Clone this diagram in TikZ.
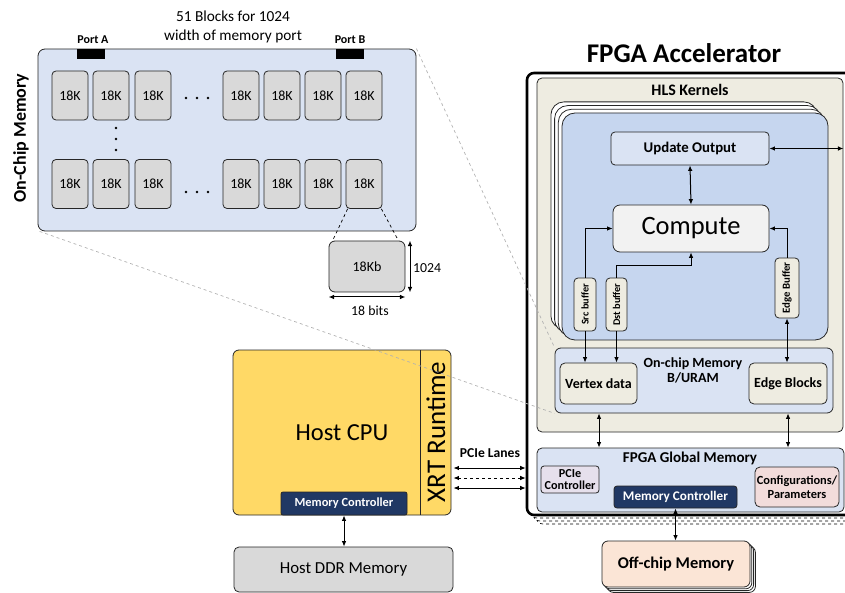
\documentclass[tikz,border=0pt]{standalone}
\usepackage{fontspec}
\setmainfont{Carlito}
\usetikzlibrary{arrows.meta,calc}
\definecolor{lblue}{HTML}{DAE3F3}
\definecolor{kblue}{HTML}{C6D6EF}
\definecolor{beige}{HTML}{EEECE1}
\definecolor{gold}{HTML}{FFD966}
\definecolor{dblue}{HTML}{203864}
\definecolor{pinkc}{HTML}{F2DCDB}
\definecolor{lav}{HTML}{E6E0EC}
\definecolor{peach}{HTML}{FBE5D6}
\definecolor{lgray}{HTML}{D9D9D9}
\definecolor{cfill}{HTML}{F2F2F2}
\newcommand{\fsz}[1]{\fontsize{#1}{#1}\selectfont}
\begin{document}
\begin{tikzpicture}[x=1pt,y=-1pt,
  box/.style={draw=black!85, line width=0.8pt, rounded corners=4pt, inner sep=0pt, align=center},
  blk/.style={box, fill=lgray, minimum width=36, minimum height=49, font=\fsz{14}},
  arr/.style={{Latex[length=5.5pt,width=4.6pt]}-{Latex[length=5.5pt,width=4.6pt]}, line width=1pt},
  arrone/.style={-{Latex[length=5.5pt,width=4.6pt]}, line width=1pt},
  zoomline/.style={draw=black!30, dashed, line width=0.7pt},
  dotc/.style={fill=black, draw=none, circle, inner sep=0pt, minimum size=2.6}
]
\useasboundingbox (0,0) rectangle (845,593);

% ---------------- On-chip memory detail ----------------
\node[box, fill=lblue, minimum width=378, minimum height=182, rounded corners=7pt] (ocm) at (227,140) {};
\node[font=\bfseries\fsz{18}, rotate=90] (ocmlabel) at (21,138) {On-Chip Memory};
\node[font=\fsz{15.3}, align=center] (title) at (233,27) {51 Blocks for 1024\\[3pt]width of memory port};
\node[fill=black, minimum width=28, minimum height=10, inner sep=0pt] (pa) at (91,54) {};
\node[fill=black, minimum width=28, minimum height=10, inner sep=0pt] (pb) at (350,54) {};
\node[font=\bfseries\fsz{12}] (pal) at (93,40) {Port A};
\node[font=\bfseries\fsz{12}] (pbl) at (350,40) {Port B};

\foreach \x [count=\i] in {70,111,153} {
  \node[blk] (a\i) at (\x,95.5) {18K};
  \node[blk] (b\i) at (\x,184) {18K};
}
\foreach \x [count=\i from 4] in {241,282,323,364} {
  \node[blk] (a\i) at (\x,95.5) {18K};
  \node[blk] (b\i) at (\x,184) {18K};
}
\foreach \x [count=\i] in {186,197,208} {
  \node[dotc] (da\i) at (\x,98) {};
  \node[dotc] (db\i) at (\x,192) {};
}
\foreach \y [count=\i] in {128,139,150} {
  \node[dotc] (dv\i) at (116,\y) {};
}

\node[box, fill=lgray, minimum width=76, minimum height=51, rounded corners=6pt, font=\fsz{14}] (kb) at (367,266.5) {18Kb};
\draw[dashed, line width=0.7pt] ([xshift=2pt]b7.south west) -- ([xshift=4pt]kb.north west);
\draw[dashed, line width=0.7pt] ([xshift=-1pt]b7.south east) -- ([xshift=-7pt]kb.north east);
\coordinate (vtop) at (410,241);
\coordinate (vbot) at (410,292);
\coordinate (hl) at (329,297);
\coordinate (hr) at (405,297);
\draw[arr] (kb.north east -| vtop) -- (kb.south east -| vbot);
\draw[arr] (kb.south west |- hl) -- (kb.south east |- hr);
\node[font=\fsz{13.8}] (n1024) at (427,268) {1024};
\node[font=\fsz{13.8}] (n18b) at (370,311) {18 bits};

% ---------------- FPGA ----------------
\node[font=\bfseries\fsz{27}] (ftitle) at (684,53) {FPGA Accelerator};
\foreach \k in {3,2,1} {
  \node[draw=black, dashed, line width=0.6pt, fill=white, rounded corners=7pt, minimum width=353, minimum height=442, inner sep=0pt] (fst\k) at (703.5+3*\k,294+3*\k) {};
}
\node[draw=black, line width=2.6pt, fill=white, rounded corners=7pt, minimum width=353, minimum height=442, inner sep=0pt] (fpga) at (703.5,294) {};

\node[box, fill=beige, minimum width=306, minimum height=354, rounded corners=5pt] (hls) at (690,255) {};
\node[font=\bfseries\fsz{16}] (hlsl) at (690,90) {HLS Kernels};

\foreach \k in {3,2,1} {
  \node[box, fill=white, minimum width=266, minimum height=227, rounded corners=13pt] (ks\k) at (695-3.7*\k,226.5-3.7*\k) {};
}
\node[box, fill=kblue, minimum width=266, minimum height=227, rounded corners=13pt] (kern) at (695,226.5) {};

\node[box, fill=lblue, minimum width=158, minimum height=33, font=\bfseries\fsz{14.8}] (uo) at (690,148.5) {Update Output};
\node[box, fill=cfill, minimum width=156, minimum height=47, rounded corners=7pt, font=\fsz{26.5}] (comp) at (691,228.5) {Compute};

\node[box, fill=beige, minimum width=22, minimum height=53] (src) at (585,304.5) {};
\node[font=\bfseries\fsz{10.3}, rotate=90] (srcl) at (src) {Src buffer};
\node[box, fill=beige, minimum width=21, minimum height=53] (dst) at (616.5,304.5) {};
\node[font=\bfseries\fsz{10.3}, rotate=90] (dstl) at (dst) {Dst buffer};
\node[box, fill=beige, minimum width=24, minimum height=60] (eb) at (787,288) {};
\node[font=\bfseries\fsz{10.8}, rotate=90] (ebl) at (eb) {Edge Buffer};

\node[box, fill=lblue, minimum width=278, minimum height=65, rounded corners=6pt] (bur) at (694,380.5) {};
\node[font=\bfseries\fsz{14}, align=center] (burl) at (693,370) {On-chip Memory\\[1pt]B/URAM};
\node[box, fill=beige, minimum width=77, minimum height=41, rounded corners=5pt, font=\bfseries\fsz{14}] (vd) at (598.5,383.5) {Vertex data};
\node[box, fill=beige, minimum width=78, minimum height=41, rounded corners=5pt, font=\bfseries\fsz{14}] (ebk) at (788,383.5) {Edge Blocks};

\node[box, fill=lblue, minimum width=307, minimum height=64, rounded corners=5pt] (gm) at (690.5,480) {};
\node[font=\bfseries\fsz{15}] (gml) at (690,458) {FPGA Global Memory};
\node[box, fill=lav, minimum width=58, minimum height=27, rounded corners=3pt, font=\bfseries\fsz{12.2}] (pcie) at (570,479.5) {PCIe\\[-1pt]Controller};
\node[box, fill=dblue, text=white, minimum width=123, minimum height=22, rounded corners=3pt, font=\bfseries\fsz{13.2}] (fmc) at (675.5,497) {Memory Controller};
\node[box, fill=pinkc, minimum width=84, minimum height=40, rounded corners=5pt, font=\bfseries\fsz{12.4}] (cfg) at (797,487) {Configurations/\\[1pt]Parameters};

% off-chip memory
\foreach \k in {3,2,1} {
  \node[box, fill=white, minimum width=148, minimum height=46, rounded corners=6pt] (ofs\k) at (676+1.8*\k,564+1.8*\k) {};
}
\node[box, fill=peach, minimum width=148, minimum height=46, rounded corners=6pt, font=\bfseries\fsz{16.4}] (off) at (676,564) {Off-chip Memory};

% FPGA connectors
\draw[arr] (uo.east) -- (hls.east |- uo.east);
\draw[arr] (uo.south) -- (comp.north);
\draw[arrone] (src.north) |- (comp.west);
\draw[arrone] (dst.north) -- ++(0,-12) -| (comp.south);
\draw[arrone] (eb.north) |- (comp.east);
\draw[arrone] (src.south) -- (vd.north -| src.south);
\draw[arrone] (dst.south) -- (vd.north -| dst.south);
\draw[arr] (eb.south) -- (ebk.north -| eb.south);
\coordinate (c1) at (599,0);
\coordinate (c2) at (788,0);
\draw[arr] (bur.south -| c1) -- (gm.north -| c1);
\draw[arr] (bur.south -| c2) -- (gm.north -| c2);
\draw[arr] (fmc.south) -- (off.north -| fmc.south);

% ---------------- Host ----------------
\node[box, fill=gold, minimum width=218, minimum height=165, rounded corners=6pt, font=\fsz{24.5}] (host) at (342,432.5) {Host CPU};
\draw[line width=0.8pt, draw=black!85] (420,350) coordinate (xd1) -- (420,515) coordinate (xd2);
\node[font=\fsz{27}, rotate=90] (xrt) at (436,432) {XRT Runtime};
\node[box, fill=dblue, text=white, minimum width=126, minimum height=23, rounded corners=2pt, font=\bfseries\fsz{12.4}] (hmc) at (344,503.5) {Memory Controller};
\node[box, fill=lgray, minimum width=219, minimum height=45, rounded corners=5pt, font=\fsz{16.8}] (ddr) at (343.5,569.5) {Host DDR Memory};
\draw[arr] (hmc.south) -- (ddr.north -| hmc.south);

\node[font=\bfseries\fsz{13.6}] (pl) at (490,453) {PCIe Lanes};
\coordinate (l1) at (0,468);
\coordinate (l2) at (0,478);
\coordinate (l3) at (0,488);
\draw[arr] ([xshift=2pt]host.east |- l1) -- (fpga.west |- l1);
\draw[arr, dashed] ([xshift=2pt]host.east |- l2) -- (fpga.west |- l2);
\draw[arr] ([xshift=2pt]host.east |- l3) -- (fpga.west |- l3);

% zoom lines
\draw[zoomline] (ocm.north east) -- (bur.north west);
\draw[zoomline] ([xshift=2pt]ocm.south west) -- (bur.south west);
\end{tikzpicture}
\end{document}
